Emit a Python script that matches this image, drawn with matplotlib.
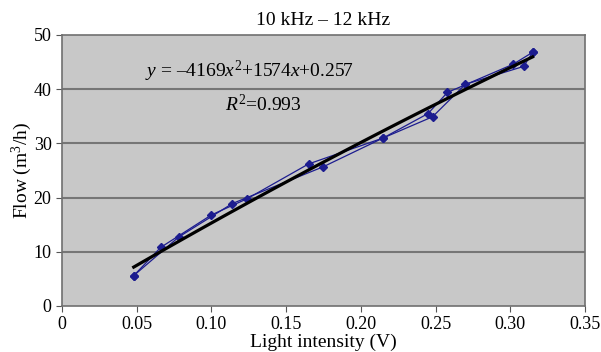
import numpy as np
import matplotlib.pyplot as plt

plt.rcParams['font.family'] = ['Liberation Serif', 'DejaVu Serif']
plt.rcParams['mathtext.fontset'] = 'custom'
plt.rcParams['mathtext.rm'] = 'Liberation Serif'
plt.rcParams['mathtext.it'] = 'Liberation Serif:italic'

# two measurement sweeps (light intensity V, flow m3/h)
sweep1_x = [0.048, 0.066, 0.100, 0.124, 0.165, 0.215, 0.245, 0.258, 0.302, 0.315]
sweep1_y = [5.6, 10.8, 16.8, 19.8, 26.2, 31.0, 35.5, 39.4, 44.6, 46.8]
sweep2_x = [0.048, 0.078, 0.114, 0.175, 0.215, 0.248, 0.270, 0.309, 0.315]
sweep2_y = [5.6, 12.7, 18.9, 25.7, 31.0, 34.9, 40.9, 44.2, 46.8]

xticks = [0, 0.05, 0.10, 0.15, 0.20, 0.25, 0.30, 0.35]
xticklabels = ['0', '0.05', '0.10', '0.15', '0.20', '0.25', '0.30', '0.35']
yticks = [0, 10, 20, 30, 40, 50]

fig = plt.figure(figsize=(6.01, 3.52), dpi=100)
ax = fig.add_axes([0.1032, 0.1307, 0.870, 0.770])
ax.set_facecolor('#c8c8c8')

for y in yticks[1:-1]:
    ax.axhline(y, color='#767676', linewidth=1.5, zorder=1)

blue = '#1c1c8f'
ax.plot(sweep1_x, sweep1_y, '-D', color=blue, markersize=4, linewidth=0.9, zorder=3)
ax.plot(sweep2_x, sweep2_y, '-D', color=blue, markersize=4, linewidth=0.9, zorder=3)

# quadratic trend line through all points
all_x = np.array(sweep1_x + sweep2_x)
all_y = np.array(sweep1_y + sweep2_y)
coef = np.polyfit(all_x, all_y, 2)
xs = np.linspace(all_x.min(), all_x.max(), 100)
ax.plot(xs, np.polyval(coef, xs), color='black', linewidth=2.3, zorder=4)

ax.text(0.0556, 43.2, r'$y$ = –4169$x^2$+1574$x$+0.257', fontsize=14, ha='left', va='center')
ax.text(0.109, 37.1, r'$R^2$=0.993', fontsize=14, ha='left', va='center')

ax.set_xlim(0, 0.35)
ax.set_ylim(0, 50)
ax.set_xticks(xticks)
ax.set_xticklabels(xticklabels)
ax.set_yticks(yticks)
ax.tick_params(labelsize=13, color='#555555', length=4)
for s in ax.spines.values():
    s.set_color('#707070')
    s.set_linewidth(1.2)

ax.set_title('10 kHz – 12 kHz', fontsize=14, pad=7)
ax.set_xlabel('Light intensity (V)', fontsize=14, labelpad=0)
ax.set_ylabel('Flow (m$^3$/h)', fontsize=14, labelpad=0)

fig.savefig('out.png', dpi=100)
